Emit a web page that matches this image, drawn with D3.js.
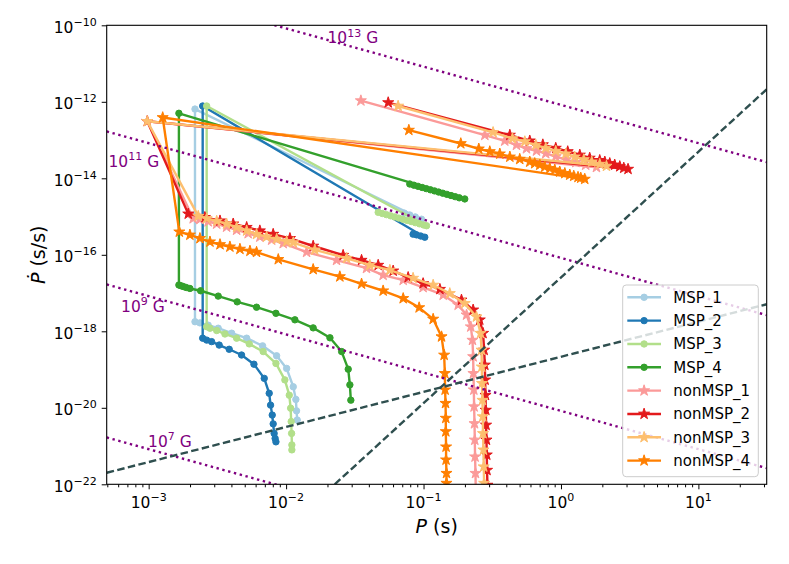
<!DOCTYPE html>
<html lang="en">
<head>
<meta charset="UTF-8">
<title>P - Pdot tracks</title>
<script src="https://d3js.org/d3.v7.min.js"></script>
<style>
  body { margin: 0; background: #fff; }
  text { font-family: "DejaVu Sans", sans-serif; }
</style>
</head>
<body>
<div id="chart"></div>
<script>
// tracks, each point is [log10 P (s), log10 Pdot (s/s)]
var MSP_1 = [[-1.14,-14.91],[-1.10,-14.96],[-1.06,-15.01],[-1.015,-15.07],[-2.663,-12.19],
  [-2.663,-17.75],[-2.627,-17.78],[-2.567,-17.84],[-2.494,-17.92],[-2.396,-18.05],[-2.287,-18.18],
  [-2.171,-18.38],[-2.069,-18.64],[-1.996,-18.97],[-1.948,-19.45],[-1.929,-19.78],[-1.924,-20.08],[-1.919,-20.32]];
var MSP_2 = [[-1.076,-15.46],[-1.05,-15.48],[-1.02,-15.51],[-0.991,-15.54],[-2.607,-12.11],
  [-2.607,-18.18],[-2.578,-18.23],[-2.542,-18.27],[-2.487,-18.36],[-2.414,-18.47],[-2.324,-18.62],
  [-2.234,-18.86],[-2.159,-19.23],[-2.123,-19.62],[-2.113,-19.93],[-2.101,-20.19],[-2.094,-20.42],
  [-2.087,-20.67],[-2.080,-20.80],[-2.074,-20.89]];
var MSP_3 = [[-1.33,-14.89],[-1.30,-14.92],[-1.27,-14.95],[-1.24,-14.98],[-1.21,-15.01],[-1.18,-15.04],
  [-1.15,-15.07],[-1.12,-15.10],[-1.09,-15.13],[-1.06,-15.16],[-1.03,-15.19],[-1.00,-15.22],[-0.978,-15.24],
  [-2.578,-12.11],
  [-2.578,-17.88],[-2.554,-17.92],[-2.505,-17.98],[-2.445,-18.07],[-2.360,-18.18],[-2.268,-18.33],
  [-2.167,-18.53],[-2.074,-18.84],[-2.009,-19.27],[-1.977,-19.67],[-1.967,-20.01],[-1.963,-20.36],
  [-1.960,-20.67],[-1.958,-20.97],[-1.958,-21.10]];
var MSP_4 = [[-1.10,-14.15],[-1.07,-14.18],[-1.04,-14.21],[-1.01,-14.24],[-0.98,-14.27],[-0.95,-14.30],
  [-0.92,-14.33],[-0.89,-14.36],[-0.86,-14.39],[-0.83,-14.42],[-0.80,-14.45],[-0.77,-14.48],[-0.74,-14.51],[-0.70,-14.54],
  [-2.780,-12.30],
  [-2.780,-16.79],[-2.765,-16.81],[-2.748,-16.83],[-2.727,-16.855],[-2.700,-16.88],[-2.622,-16.94],
  [-2.494,-17.08],[-2.356,-17.23],[-2.215,-17.37],[-2.074,-17.53],[-1.936,-17.70],[-1.803,-17.91],
  [-1.681,-18.17],[-1.596,-18.53],[-1.548,-18.99],[-1.536,-19.40],[-1.529,-19.80]];

var nonMSP_1 = [[-1.456,-11.97],[-0.554,-12.87],[-0.409,-13.02],[-0.324,-13.13],[-0.251,-13.22],[-0.178,-13.28],
  [-0.111,-13.35],[-0.038,-13.43],[0.035,-13.51],[0.108,-13.58],[0.180,-13.65],[0.258,-13.71],
  [-3.01,-12.51],
  [-2.676,-15.05],[-2.627,-15.07],[-2.567,-15.13],[-2.505,-15.19],[-2.433,-15.27],[-2.360,-15.35],
  [-2.276,-15.44],[-2.191,-15.53],[-2.105,-15.61],[-2.021,-15.70],[-1.851,-15.93],[-1.633,-16.14],
  [-1.415,-16.35],[-1.294,-16.53],[-1.148,-16.66],[-1.003,-16.85],[-0.857,-17.05],[-0.748,-17.31],
  [-0.687,-17.57],[-0.656,-17.88],[-0.644,-18.23],[-0.639,-18.66],[-0.637,-19.10],[-0.634,-19.53],
  [-0.632,-19.97],[-0.629,-20.41],[-0.627,-20.84],[-0.625,-21.28],[-0.622,-21.71],[-0.620,-22.15],[-0.618,-22.57]];
var nonMSP_2 = [[-1.257,-12.02],[-0.372,-12.87],[-0.227,-13.02],[-0.132,-13.12],[-0.038,-13.21],[0.049,-13.30],
  [0.137,-13.39],[0.209,-13.47],[0.282,-13.53],[0.319,-13.57],[0.355,-13.61],[0.391,-13.65],[0.428,-13.69],
  [0.457,-13.73],[0.488,-13.76],
  [-3.01,-12.51],
  [-2.712,-14.93],[-2.591,-15.02],[-2.481,-15.11],[-2.385,-15.19],[-2.287,-15.28],[-2.191,-15.37],
  [-2.094,-15.46],[-1.972,-15.57],[-1.803,-15.77],[-1.585,-16.01],[-1.451,-16.14],[-1.330,-16.27],
  [-1.221,-16.42],[-1.112,-16.59],[-1.003,-16.75],[-0.881,-16.90],[-0.724,-17.18],[-0.639,-17.44],
  [-0.591,-17.70],[-0.567,-18.05],[-0.559,-18.49],[-0.554,-18.88],[-0.552,-19.27],[-0.549,-19.67],
  [-0.547,-20.06],[-0.545,-20.45],[-0.542,-20.84],[-0.540,-21.23],[-0.538,-21.63],[-0.535,-22.02],[-0.533,-22.41]];
var nonMSP_3 = [[-1.185,-12.11],[-0.494,-12.80],[-0.353,-12.96],[-0.263,-13.04],[-0.183,-13.13],[-0.111,-13.21],
  [-0.038,-13.29],[0.035,-13.36],[0.100,-13.44],[0.166,-13.51],[0.224,-13.57],[0.282,-13.63],[0.331,-13.68],
  [-3.01,-12.51],
  [-2.639,-14.99],[-2.578,-15.05],[-2.505,-15.12],[-2.433,-15.19],[-2.360,-15.28],[-2.287,-15.37],
  [-2.215,-15.46],[-2.142,-15.53],[-2.069,-15.59],[-1.996,-15.65],[-1.948,-15.68],[-1.791,-15.87],
  [-1.560,-16.09],[-1.391,-16.27],[-1.245,-16.40],[-1.076,-16.61],[-0.930,-16.79],[-0.809,-17.01],
  [-0.700,-17.27],[-0.615,-17.62],[-0.585,-18.05],[-0.578,-18.49],[-0.576,-18.93],[-0.574,-19.36],
  [-0.571,-19.80],[-0.569,-20.23],[-0.567,-20.67],[-0.564,-21.10],[-0.562,-21.54],[-0.559,-21.97],[-0.556,-22.41]];
var nonMSP_4 = [[-1.107,-12.74],[-0.729,-13.09],[-0.598,-13.23],[-0.518,-13.30],[-0.445,-13.36],[-0.372,-13.44],
  [-0.300,-13.50],[-0.227,-13.57],[-0.191,-13.61],[-0.154,-13.65],[-0.118,-13.70],[-0.081,-13.74],
  [-0.045,-13.78],[-0.009,-13.83],[0.028,-13.87],[0.064,-13.91],[0.093,-13.94],[0.124,-13.97],
  [0.144,-13.99],[0.173,-14.02],
  [-2.898,-12.41],
  [-2.777,-15.40],[-2.700,-15.48],[-2.627,-15.57],[-2.554,-15.66],[-2.481,-15.73],[-2.409,-15.79],
  [-2.336,-15.85],[-2.263,-15.90],[-2.215,-15.93],[-2.057,-16.12],[-1.803,-16.38],[-1.609,-16.57],
  [-1.451,-16.76],[-1.294,-16.94],[-1.148,-17.14],[-1.032,-17.38],[-0.930,-17.68],[-0.869,-18.14],
  [-0.850,-18.62],[-0.845,-19.10],[-0.843,-19.53],[-0.840,-19.88],[-0.838,-20.27],[-0.838,-20.62],
  [-0.836,-21.02],[-0.836,-21.36],[-0.833,-21.71],[-0.833,-21.97],[-0.831,-22.32]];

var seriesNames = ["MSP_1", "MSP_2", "MSP_3", "MSP_4", "nonMSP_1", "nonMSP_2", "nonMSP_3", "nonMSP_4"];
var seriesData = [MSP_1, MSP_2, MSP_3, MSP_4, nonMSP_1, nonMSP_2, nonMSP_3, nonMSP_4];
var seriesColors = ["#a6cee3", "#1f78b4", "#b2df8a", "#33a02c", "#fb9a99", "#e31a1c", "#fdbf6f", "#ff7f00"];

var xTickExp = [-3, -2, -1, 0, 1];
var yTickExp = [-22, -20, -18, -16, -14, -12, -10];
var xDomain = [4.95e-4, 31.4];
var yDomain = [1e-22, 1e-10];

// constant field lines (slope -1): Pdot at P = 1 s, and where the labels sit [P, Pdot]
var bExp = ["13", "11", "9", "7"];
var bPdotAt1s = [8.3e-13, 8.3e-17, 8.3e-21, 8.3e-25];
var bLabelPos = [[2.0e-2, 3.4e-11], [5.1e-4, 2.0e-14], [6.3e-4, 3.2e-18], [9.9e-4, 9.5e-22]];

// dashed lines, end points [P, Pdot]
var deathLine1 = [[2.26e-2, 1e-22], [31.4, 2.12e-12]];
var deathLine2 = [[4.95e-4, 2.0e-22], [31.4, 5.1e-18]];

var W = 789, H = 564;
var margin = {top: 25.3, left: 106.7};
var width = 660, height = 459;

var svg = d3.select("#chart").append("svg")
    .attr("width", W).attr("height", H);

svg.append("defs").append("clipPath").attr("id", "plotclip")
  .append("rect").attr("width", width).attr("height", height);

var g = svg.append("g")
    .attr("transform", "translate(" + margin.left + "," + margin.top + ")");

var x = d3.scaleLog().domain(xDomain).range([0, width]);
var y = d3.scaleLog().domain(yDomain).range([height, 0]);

function px(d) { return x(Math.pow(10, d[0])); }
function py(d) { return y(Math.pow(10, d[1])); }

var plot = g.append("g").attr("clip-path", "url(#plotclip)");

var line = d3.line().x(px).y(py);
var star = d3.symbol().type(d3.symbolStar).size(38);
var lw = 2.4;

seriesData.forEach(function(data, i) {
    var col = seriesColors[i];
    var sg = plot.append("g");
    sg.append("path")
      .attr("d", line(data))
      .attr("fill", "none")
      .attr("stroke", col)
      .attr("stroke-width", lw)
      .attr("stroke-linejoin", "round");
    if (i < 4) {
        sg.selectAll("circle").data(data).enter().append("circle")
          .attr("cx", px).attr("cy", py).attr("r", 3.2)
          .attr("fill", col).attr("stroke", col).attr("stroke-width", 1);
    } else {
        sg.selectAll(".star").data(data).enter().append("path")
          .attr("d", star)
          .attr("transform", function(d) { return "translate(" + px(d) + "," + py(d) + ")"; })
          .attr("fill", col).attr("stroke", col).attr("stroke-width", 1)
          .attr("stroke-linejoin", "round");
    }
});

// constant B lines
bPdotAt1s.forEach(function(b) {
    var pts = xDomain.map(function(p) { return [p, b / p]; });
    plot.append("line")
      .attr("x1", x(pts[0][0])).attr("y1", y(pts[0][1]))
      .attr("x2", x(pts[1][0])).attr("y2", y(pts[1][1]))
      .attr("stroke", "purple")
      .attr("stroke-width", 2.4)
      .attr("stroke-dasharray", "2.4,3.6");
});

[deathLine1, deathLine2].forEach(function(pts) {
    plot.append("line")
      .attr("x1", x(pts[0][0])).attr("y1", y(pts[0][1]))
      .attr("x2", x(pts[1][0])).attr("y2", y(pts[1][1]))
      .attr("stroke", "#2f4f4f")
      .attr("stroke-width", 2.4)
      .attr("stroke-dasharray", "7.5,3.4");
});

bExp.forEach(function(e, i) {
    var t = g.append("text")
      .attr("x", x(bLabelPos[i][0])).attr("y", y(bLabelPos[i][1]))
      .attr("fill", "purple")
      .style("font-size", "15.5px");
    t.append("tspan").text("10");
    t.append("tspan").attr("dy", -6.5).style("font-size", "11px").text(e);
    t.append("tspan").attr("dy", 6.5).text(" G");
});

// axes
var xMinor = [];
for (var e = -4; e <= 1; e++) {
    for (var k = 2; k <= 9; k++) {
        var v = k * Math.pow(10, e);
        if (v >= xDomain[0] && v <= xDomain[1]) xMinor.push(v);
    }
}

g.append("g")
  .attr("transform", "translate(0," + height + ")")
  .call(d3.axisBottom(x).tickValues(xMinor).tickSize(3).tickSizeOuter(0).tickFormat(""))
  .call(function(a) { a.select(".domain").remove(); });

g.append("g")
  .attr("transform", "translate(0," + height + ")")
  .call(d3.axisBottom(x).tickValues(xTickExp.map(function(e) { return Math.pow(10, e); }))
        .tickSize(5).tickSizeOuter(0).tickFormat(""))
  .call(function(a) { a.select(".domain").remove(); });

g.append("g")
  .call(d3.axisLeft(y).tickValues(yTickExp.map(function(e) { return Math.pow(10, e); }))
        .tickSize(5).tickSizeOuter(0).tickFormat(""))
  .call(function(a) { a.select(".domain").remove(); });

g.selectAll(".tick line").attr("stroke", "#000").attr("stroke-width", 1);

g.append("rect")
  .attr("width", width).attr("height", height)
  .attr("fill", "none").attr("stroke", "#000").attr("stroke-width", 1.1);

function powLabel(sel, e) {
    sel.append("tspan").text("10");
    sel.append("tspan").attr("dy", -6.8).style("font-size", "11px")
       .text(e < 0 ? "\u2212" + (-e) : String(e));
}

xTickExp.forEach(function(e) {
    var t = g.append("text")
      .attr("x", x(Math.pow(10, e))).attr("y", height + 24)
      .attr("text-anchor", "middle")
      .style("font-size", "15.5px");
    powLabel(t, e);
});

yTickExp.forEach(function(e) {
    var t = g.append("text")
      .attr("x", -10).attr("y", y(Math.pow(10, e)) + 7.5)
      .attr("text-anchor", "end")
      .style("font-size", "15.5px");
    powLabel(t, e);
});

var xl = g.append("text")
  .attr("x", width / 2).attr("y", height + 49)
  .attr("text-anchor", "middle")
  .style("font-size", "19px");
xl.append("tspan").style("font-style", "italic").text("P");
xl.append("tspan").text(" (s)");

var yl = g.append("text")
  .attr("transform", "translate(" + (-62) + "," + (height / 2) + ") rotate(-90)")
  .attr("text-anchor", "middle")
  .style("font-size", "19px");
yl.append("tspan").style("font-style", "italic").text("\u1E56");
yl.append("tspan").text(" (s/s)");

// legend
var leg = svg.append("g").attr("transform", "translate(622.7,285)");
leg.append("rect")
  .attr("width", 135.6).attr("height", 191.7)
  .attr("rx", 3.5)
  .attr("fill", "#fff").attr("fill-opacity", 0.8)
  .attr("stroke", "#cccccc").attr("stroke-width", 1);

seriesNames.forEach(function(name, i) {
    var cy = 12.3 + i * 23.33;
    var col = seriesColors[i];
    var row = leg.append("g");
    row.append("line")
      .attr("x1", 4.6).attr("x2", 38.3).attr("y1", cy).attr("y2", cy)
      .attr("stroke", col).attr("stroke-width", lw);
    if (i < 4) {
        row.append("circle").attr("cx", 21.4).attr("cy", cy).attr("r", 3.2)
          .attr("fill", col).attr("stroke", col).attr("stroke-width", 1);
    } else {
        row.append("path").attr("d", star)
          .attr("transform", "translate(21.4," + cy + ")")
          .attr("fill", col).attr("stroke", col).attr("stroke-width", 1);
    }
    row.append("text")
      .attr("x", 50.6).attr("y", cy + 5.5)
      .style("font-size", "15px")
      .text(name);
});
</script>
</body>
</html>
